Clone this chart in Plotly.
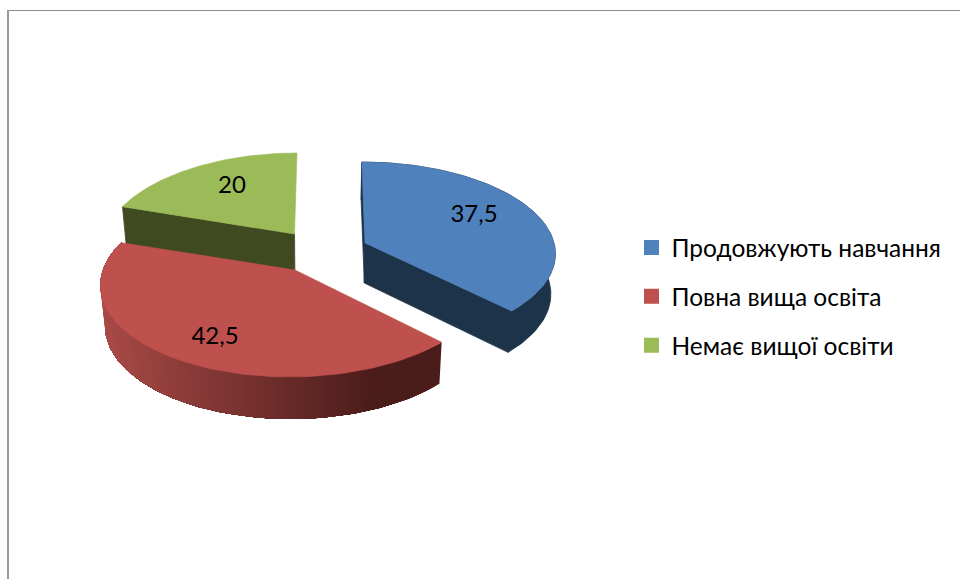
import numpy as np
import plotly.graph_objects as go

# ---- data ----
categories = ["Продовжують навчання", "Повна вища освіта", "Немає вищої освіти"]
values = [37.5, 42.5, 20]
value_labels = ["37,5", "42,5", "20"]

# ---- style ----
top_colors = ["#4F81BD", "#BE504D", "#9BBB59"]
wall_colors = ["#1D3349", "#4E1E1B", "#3F4A20"]
FONT = "Lato, Carlito, Calibri, 'Open Sans', sans-serif"

# ---- 3-D projection geometry (pixels), one entry per slice ----
apexes = [(365, 243), (295, 270), (294.5, 234)]
centres = [330.0, 330.0, 315.0]
radii = [189.0, 192.0, 189.5]
heights = [89.2, 92.2, 92.2]
tilts = [0.1015, 0.138, 0.138]
label_pos = [(474, 216), (215, 338), (232, 187)]
K = 0.98
paint_order = [2, 0, 1]
# which side faces can be seen: (wall at start angle, wall at end angle, outer rim)
visible_faces = [(True, True, True), (False, False, True), (True, False, False)]


def project(i, theta, lower=False):
    u, v = np.sin(theta), -np.cos(theta)
    ax, ay = apexes[i]
    cx = centres[i]
    w = 1 - tilts[i] * v
    x = cx + ((ax - cx) + radii[i] * u) / w
    y = ay + heights[i] * v / w
    if lower:
        x = cx + (x - cx) * K
        y = y + 40 + 2 * v
    return x, y


def poly(xs, ys, color, lw=0.8):
    return go.Scatter(x=list(xs), y=list(ys), mode="lines", fill="toself",
                      fillcolor=color, line=dict(color=color, width=lw),
                      hoverinfo="skip", showlegend=False)


def lerp_color(t):
    c0 = np.array([0xA9, 0x4A, 0x47])
    c1 = np.array([0x4A, 0x1C, 0x1A])
    c = c0 + (c1 - c0) * min(max(t, 0), 1)
    return "rgb(%d,%d,%d)" % tuple(c)


fig = go.Figure()
edges = np.concatenate([[0], np.cumsum(values)]) / np.sum(values) * 2 * np.pi

for i in paint_order:
    t0, t1 = edges[i], edges[i + 1]
    ax, ay = apexes[i]
    lo_ax, lo_ay = centres[i] + (ax - centres[i]) * K, ay + 40
    show_start, show_end, show_rim = visible_faces[i]
    # cut walls
    for t, show in ((t0, show_start), (t1, show_end)):
        if show:
            xa, ya = project(i, t)
            xb, yb = project(i, t, lower=True)
            fig.add_trace(poly([ax, xa, xb, lo_ax, ax], [ay, ya, yb, lo_ay, ay], wall_colors[i]))
    # outer rim
    th = np.linspace(t0, t1, 90)
    if i == 1:
        # each band painted over the previous one, so the gradient has no seams
        for j in range(len(th) - 1):
            part = th[j:]
            xu, yu = project(i, part)
            xl, yl = project(i, part[::-1], lower=True)
            col = lerp_color((xu[0] - 105) / 275)
            fig.add_trace(poly(np.r_[xu, xl, xu[0]], np.r_[yu, yl, yu[0]], col, lw=0))
    elif show_rim:
        xu, yu = project(i, th)
        xl, yl = project(i, th[::-1], lower=True)
        fig.add_trace(poly(np.r_[xu, xl, xu[0]], np.r_[yu, yl, yu[0]], wall_colors[i]))
    # top face
    xu, yu = project(i, th)
    fig.add_trace(poly(np.r_[ax, xu, ax], np.r_[ay, yu, ay], top_colors[i], lw=0.6))

# value labels
fig.add_trace(go.Scatter(x=[p[0] for p in label_pos], y=[p[1] for p in label_pos],
                         mode="text", text=value_labels, textposition="middle center",
                         textfont=dict(family=FONT, size=24, color="#000000"),
                         hoverinfo="skip", showlegend=False))

# legend entries
for name, col in zip(categories, top_colors):
    fig.add_trace(go.Scatter(x=[None], y=[None], mode="markers", name=name, legendgroup=name,
                             marker=dict(symbol="square", size=15, color=col)))

fig.update_layout(
    width=960, height=579, margin=dict(l=0, r=0, t=0, b=0),
    paper_bgcolor="white", plot_bgcolor="white",
    xaxis=dict(range=[0, 960], visible=False, fixedrange=True),
    yaxis=dict(range=[579, 0], visible=False, fixedrange=True),
    legend=dict(x=631.5 / 960, y=1 - 225 / 579, xanchor="left", yanchor="top",
                font=dict(family=FONT, size=24.5, color="#000000"),
                tracegroupgap=14, itemwidth=30, bgcolor="rgba(0,0,0,0)"),
    shapes=[
        dict(type="line", xref="x", yref="y", x0=7, x1=960, y0=10.5, y1=10.5,
             line=dict(color="#8C8C8C", width=1)),
        dict(type="line", xref="x", yref="y", x0=8, x1=8, y0=10, y1=579,
             line=dict(color="#9A9A9A", width=2)),
    ],
)
fig.write_html("out.html", config={"displayModeBar": False},
               post_script="document.body.style.margin='0';")
